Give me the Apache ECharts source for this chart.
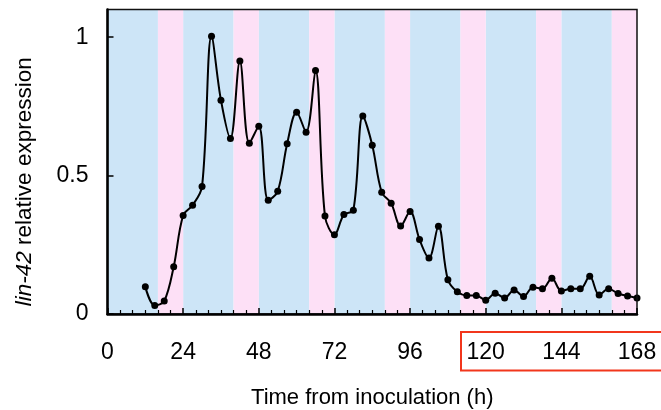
<!DOCTYPE html>
<html>
<head>
<meta charset="utf-8">
<script src="https://cdn.jsdelivr.net/npm/echarts@6/dist/echarts.min.js"></script>
<style>
  html, body { margin: 0; padding: 0; background: #fff; }
  #chart { width: 661px; height: 410px; }
</style>
</head>
<body>
<div id="chart"></div>
<script>
// sampling times (h) and lin-42 relative expression
var hours = [12, 15, 18, 21, 24, 27, 30, 33, 36, 39, 42, 45, 48, 51, 54, 57, 60, 63, 66, 69,
    72, 75, 78, 81, 84, 87, 90, 93, 96, 99, 102, 105, 108, 111, 114, 117, 120, 123, 126, 129,
    132, 135, 138, 141, 144, 147, 150, 153, 156, 159, 162, 165, 168];
var expression = [0.098, 0.031, 0.047, 0.171, 0.356, 0.393, 0.461, 1.003, 0.772, 0.634, 0.914, 0.617, 0.678, 0.411, 0.443, 0.615, 0.729, 0.657, 0.880, 0.354,
    0.286, 0.359, 0.375, 0.715, 0.610, 0.440, 0.400, 0.318, 0.370, 0.269, 0.202, 0.317, 0.124, 0.080, 0.067, 0.067, 0.050, 0.075, 0.058, 0.087,
    0.063, 0.097, 0.091, 0.129, 0.083, 0.091, 0.091, 0.136, 0.069, 0.091, 0.074, 0.065, 0.058];

// light (blue) / dark (pink) phases, in hours
var lightPhases = [[0, 16], [24, 40], [48, 64], [72, 88], [96, 112], [120, 136], [144, 160]];
var darkPhases = [[16, 24], [40, 48], [64, 72], [88, 96], [112, 120], [136, 144], [160, 168]];

var xTicks = [0, 24, 48, 72, 96, 120, 144, 168];
var yTicks = [0, 0.5, 1];

var font = "'Liberation Sans', Arial, Helvetica, sans-serif";

var myChart = echarts.init(document.getElementById('chart'));

var bands = [];
lightPhases.forEach(function (p) {
    bands.push([{ xAxis: p[0], itemStyle: { color: '#cde5f7' } }, { xAxis: p[1] }]);
});
darkPhases.forEach(function (p) {
    bands.push([{ xAxis: p[0], itemStyle: { color: '#fde0f6' } }, { xAxis: p[1] }]);
});

var option = {
    animation: false,
    grid: {
        left: 107.5,
        right: 24,
        top: 9.5,
        bottom: 96,
        outerBoundsMode: 'none',
        containLabel: false,
        show: true,
        borderColor: '#111',
        borderWidth: 1.5,
        z: 10
    },
    xAxis: {
        type: 'value',
        z: 10,
        min: 0,
        max: 168,
        interval: 24,
        name: 'Time from inoculation (h)',
        nameLocation: 'middle',
        nameGap: 73,
        nameTextStyle: { fontFamily: font, fontSize: 22, color: '#000' },
        axisLine: { show: true, onZero: false, lineStyle: { color: '#000', width: 2.5 } },
        axisTick: { show: true, inside: true, length: 6, lineStyle: { color: '#000', width: 1.5 } },
        minorTick: { show: true, splitNumber: 6, length: 4, lineStyle: { color: '#000', width: 1.2 } },
        splitLine: { show: false },
        axisLabel: {
            margin: 27,
            fontFamily: font,
            fontSize: 23,
            color: '#000',
            formatter: function (v) { return xTicks.indexOf(v) >= 0 ? String(v) : ''; }
        }
    },
    yAxis: {
        type: 'value',
        z: 10,
        min: 0,
        max: 1.1,
        interval: 0.5,
        name: '{i|lin-42} relative expression',
        nameLocation: 'middle',
        nameGap: 71,
        nameRotate: 90,
        nameTextStyle: {
            fontFamily: font, fontSize: 22.5, color: '#000',
            padding: [0, 40, 0, 0],
            rich: { i: { fontStyle: 'italic', fontFamily: font, fontSize: 22.5, color: '#000' } }
        },
        axisLine: { show: true, onZero: false, lineStyle: { color: '#000', width: 2.5 } },
        axisTick: { show: true, inside: true, length: 6, lineStyle: { color: '#000', width: 1.5 } },
        splitLine: { show: false },
        axisLabel: {
            margin: 19,
            padding: [4, 0, 0, 0],
            fontFamily: font,
            fontSize: 23,
            color: '#000',
            showMaxLabel: false,
            formatter: function (v) { return yTicks.indexOf(v) >= 0 ? String(v) : ''; }
        }
    },
    series: [
        {
            type: 'line',
            data: hours.map(function (h, i) { return [h, expression[i]]; }),
            smooth: 0.35,
            symbol: 'circle',
            symbolSize: 7,
            lineStyle: { color: '#000', width: 2 },
            itemStyle: { color: '#000' },
            z: 3,
            markArea: {
                silent: true,
                itemStyle: { opacity: 1 },
                data: bands
            }
        }
    ],
    graphic: [
        {
            type: 'rect',
            shape: { x: 461, y: 332, width: 220, height: 38.5 },
            style: { fill: 'none', stroke: '#f2361c', lineWidth: 2 },
            z: 10
        }
    ]
};
myChart.setOption(option);
</script>
</body>
</html>
